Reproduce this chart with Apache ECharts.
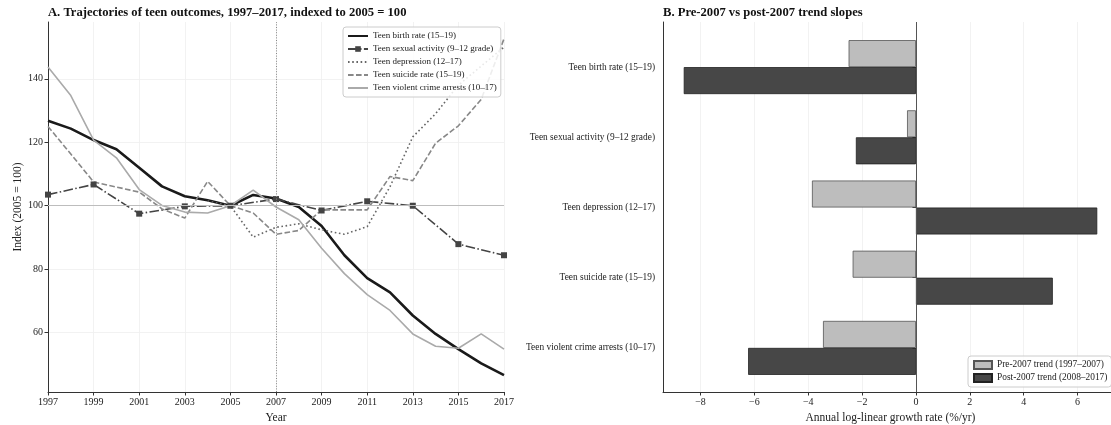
<!DOCTYPE html>
<html>
<head>
<meta charset="utf-8">
<script src="https://cdn.jsdelivr.net/npm/echarts@6/dist/echarts.min.js"></script>
<style>
  html, body { margin: 0; padding: 0; background: #fff; }
  #chart { width: 1111px; height: 425px; }
</style>
</head>
<body>
<div id="chart"></div>
<script>
// ---- Panel A: annual indices (2005 = 100) ----
const years = [1997, 1998, 1999, 2000, 2001, 2002, 2003, 2004, 2005, 2006, 2007,
               2008, 2009, 2010, 2011, 2012, 2013, 2014, 2015, 2016, 2017];
const birthRate = [126.8, 124.3, 120.7, 117.8, 112.0, 106.1, 103.0, 101.7, 100.0, 103.4, 102.3,
                   99.6, 93.6, 84.4, 77.2, 72.7, 65.4, 59.6, 54.8, 50.3, 46.6];
// survey is biennial
const sexualYears = [1997, 1999, 2001, 2003, 2005, 2007, 2009, 2011, 2013, 2015, 2017];
const sexualActivity = [103.5, 106.7, 97.5, 99.8, 100.0, 102.1, 98.5, 101.4, 100.0, 87.9, 84.4];
const depressionYears = [2004, 2005, 2006, 2007, 2008, 2009, 2010, 2011, 2012, 2013, 2014, 2015, 2016, 2017];
const depression = [101.5, 100.0, 90.1, 93.2, 94.3, 92.4, 91.0, 93.4, 106.0, 121.7, 129.0, 138.0, 144.0, 150.0];
const suicideRate = [125.0, 116.3, 107.5, 105.9, 104.3, 99.0, 96.1, 107.7, 100.0, 97.7, 91.0,
                     92.2, 98.7, 98.7, 98.7, 109.2, 107.9, 119.7, 125.2, 133.5, 152.6];
const violentArrests = [143.7, 134.7, 120.7, 115.1, 105.1, 100.1, 98.0, 97.7, 100.0, 104.9, 99.6,
                        95.6, 86.6, 78.6, 72.0, 67.0, 59.6, 55.7, 55.1, 59.6, 54.8];
const indexTicks = [60, 80, 100, 120, 140];

// ---- Panel B: log-linear slopes (%/yr) ----
const outcomes = ['Teen birth rate (15–19)', 'Teen sexual activity (9–12 grade)', 'Teen depression (12–17)',
                  'Teen suicide rate (15–19)', 'Teen violent crime arrests (10–17)'];
const preTrend = [-2.50, -0.33, -3.86, -2.35, -3.45];
const postTrend = [-8.62, -2.23, 6.73, 5.08, -6.23];
const slopeTicks = [-8, -6, -4, -2, 0, 2, 4, 6];

const serif = '"Liberation Serif", "DejaVu Serif", "Times New Roman", serif';
const ink = '#222';
const pairs = (xs, ys) => xs.map((x, i) => [x, ys[i]]);
const signed = v => String(v).replace('-', '\u2212');

const tickLabel = { fontFamily: serif, fontSize: 10, color: ink };
const axisLine = { show: true, onZero: false, lineStyle: { color: '#333', width: 1 } };
const axisTick = { show: true, length: 3.5, lineStyle: { color: '#333', width: 1 } };
const faintGrid = { show: true, lineStyle: { color: '#efefef', width: 0.8 } };
const nameStyle = { fontFamily: serif, fontSize: 11.5, color: ink };

const lineNames = ['Teen birth rate (15–19)', 'Teen sexual activity (9–12 grade)', 'Teen depression (12–17)',
                   'Teen suicide rate (15–19)', 'Teen violent crime arrests (10–17)'];
const noMarker = { opacity: 0 };

const chart = echarts.init(document.getElementById('chart'), null, { renderer: 'canvas' });
chart.setOption({
  animation: false,
  backgroundColor: '#fff',
  textStyle: { fontFamily: serif },
  title: [
    { text: 'A. Trajectories of teen outcomes, 1997–2017, indexed to 2005 = 100', left: 48, top: 6, padding: 0,
      textStyle: { fontFamily: serif, fontSize: 12.6, fontWeight: 'bold', color: '#111' } },
    { text: 'B. Pre-2007 vs post-2007 trend slopes', left: 663, top: 6, padding: 0,
      textStyle: { fontFamily: serif, fontSize: 12.6, fontWeight: 'bold', color: '#111' } }
  ],
  grid: [
    { left: 48, width: 456, top: 22, bottom: 33, outerBoundsMode: 'none' },    // panel A
    { left: 663, width: 455, top: 22, bottom: 33, outerBoundsMode: 'none' },   // panel B frame
    { left: 663, width: 455, top: 32, bottom: 42, outerBoundsMode: 'none' }    // panel B bars
  ],
  xAxis: [
    { gridIndex: 0, type: 'value', min: 1997, max: 2017, interval: 2,
      name: 'Year', nameLocation: 'middle', nameGap: 17, nameTextStyle: nameStyle,
      axisLine, axisTick, splitLine: faintGrid,
      axisLabel: { ...tickLabel, margin: 5, formatter: v => String(v) } },
    { gridIndex: 1, type: 'value', min: -9.39, max: 7.5,
      name: 'Annual log-linear growth rate (%/yr)', nameLocation: 'middle', nameGap: 17, nameTextStyle: nameStyle,
      axisLine, axisTick: { ...axisTick, customValues: slopeTicks }, splitLine: faintGrid,
      axisLabel: { ...tickLabel, margin: 5, customValues: slopeTicks,
                   formatter: v => (Math.abs(v % 2) < 1e-9 ? signed(v) : '') } },
    { gridIndex: 2, type: 'value', min: -9.39, max: 7.5, show: false }
  ],
  yAxis: [
    { gridIndex: 0, type: 'value', min: 41.3, max: 157.9,
      name: 'Index (2005 = 100)', nameLocation: 'middle', nameGap: 24, nameRotate: 90, nameTextStyle: nameStyle,
      axisLine, axisTick: { ...axisTick, customValues: indexTicks }, splitLine: faintGrid,
      axisLabel: { ...tickLabel, margin: 5, customValues: indexTicks,
                   formatter: v => (Math.abs(v % 20) < 1e-9 ? String(v) : '') } },
    { gridIndex: 1, type: 'value', min: 0, max: 1,
      axisLine, axisTick: { show: false }, axisLabel: { show: false }, splitLine: { show: false } },
    { gridIndex: 2, type: 'category', data: outcomes, inverse: true,
      axisLine: { show: false }, axisTick: { ...axisTick, alignWithLabel: true },
      splitLine: { show: false },
      axisLabel: { ...tickLabel, fontSize: 9.4, margin: 8 } }
  ],
  legend: [
    { data: [
        { name: lineNames[0], itemStyle: noMarker },
        { name: lineNames[1] },
        { name: lineNames[2], itemStyle: noMarker },
        { name: lineNames[3], itemStyle: noMarker },
        { name: lineNames[4], itemStyle: noMarker }
      ],
      orient: 'vertical', left: 343, top: 27,
      itemWidth: 20, itemHeight: 7, itemGap: 3, padding: [4, 4, 4, 4],
      backgroundColor: 'rgba(255,255,255,0.85)', borderColor: '#cccccc', borderWidth: 1, borderRadius: 3,
      textStyle: { fontFamily: serif, fontSize: 9, color: ink, lineHeight: 10 } },
    { data: ['Pre-2007 trend (1997–2007)', 'Post-2007 trend (2008–2017)'], orient: 'vertical', left: 968, top: 356,
      itemWidth: 18, itemHeight: 8, itemGap: 3, padding: [4, 4, 4, 5], icon: 'rect',
      backgroundColor: 'rgba(255,255,255,0.85)', borderColor: '#cccccc', borderWidth: 1, borderRadius: 3,
      textStyle: { fontFamily: serif, fontSize: 9.4, color: ink, lineHeight: 10 } }
  ],
  series: [
    // reference lines for panel A: 2005 baseline and the 2007 break
    { type: 'line', xAxisIndex: 0, yAxisIndex: 0, data: [], z: 1, silent: true,
      markLine: { silent: true, symbol: 'none', label: { show: false }, animation: false,
        data: [
          { yAxis: 100, lineStyle: { color: '#bdbdbd', width: 1, type: 'solid' } },
          { xAxis: 2007, lineStyle: { color: '#888', width: 1, type: [1, 1.6] } }
        ] } },
    { name: lineNames[0], type: 'line', xAxisIndex: 0, yAxisIndex: 0, z: 3,
      data: pairs(years, birthRate), symbol: 'none',
      lineStyle: { color: '#1a1a1a', width: 2.6 }, itemStyle: { color: '#1a1a1a' } },
    { name: lineNames[1], type: 'line', xAxisIndex: 0, yAxisIndex: 0, z: 3,
      data: pairs(sexualYears, sexualActivity), symbol: 'rect', symbolSize: 6,
      lineStyle: { color: '#444', width: 1.6, type: [9.6, 2.4, 1.5, 2.4] }, itemStyle: { color: '#444' } },
    { name: lineNames[2], type: 'line', xAxisIndex: 0, yAxisIndex: 0, z: 3,
      data: pairs(depressionYears, depression), symbol: 'none',
      lineStyle: { color: '#666', width: 1.6, type: [1.6, 2.6] }, itemStyle: { color: '#666' } },
    { name: lineNames[3], type: 'line', xAxisIndex: 0, yAxisIndex: 0, z: 3,
      data: pairs(years, suicideRate), symbol: 'none',
      lineStyle: { color: '#888', width: 1.6, type: [5.6, 2.4] }, itemStyle: { color: '#888' } },
    { name: lineNames[4], type: 'line', xAxisIndex: 0, yAxisIndex: 0, z: 3,
      data: pairs(years, violentArrests), symbol: 'none',
      lineStyle: { color: '#aaa', width: 1.6 }, itemStyle: { color: '#aaa' } },

    // zero line for panel B, spanning the full frame
    { type: 'line', xAxisIndex: 1, yAxisIndex: 1, data: [], z: 4, silent: true,
      markLine: { silent: true, symbol: 'none', label: { show: false }, animation: false,
        data: [{ xAxis: 0, lineStyle: { color: '#555', width: 1, type: 'solid' } }] } },
    { name: 'Pre-2007 trend (1997–2007)', type: 'bar', xAxisIndex: 2, yAxisIndex: 2,
      data: preTrend, barWidth: 27, barGap: '0%',
      itemStyle: { color: '#bdbdbd', borderColor: '#555', borderWidth: 0.8 } },
    { name: 'Post-2007 trend (2008–2017)', type: 'bar', xAxisIndex: 2, yAxisIndex: 2,
      data: postTrend, barWidth: 27, barGap: '0%',
      itemStyle: { color: '#474747', borderColor: '#222', borderWidth: 0.8 } }
  ]
});
</script>
</body>
</html>
